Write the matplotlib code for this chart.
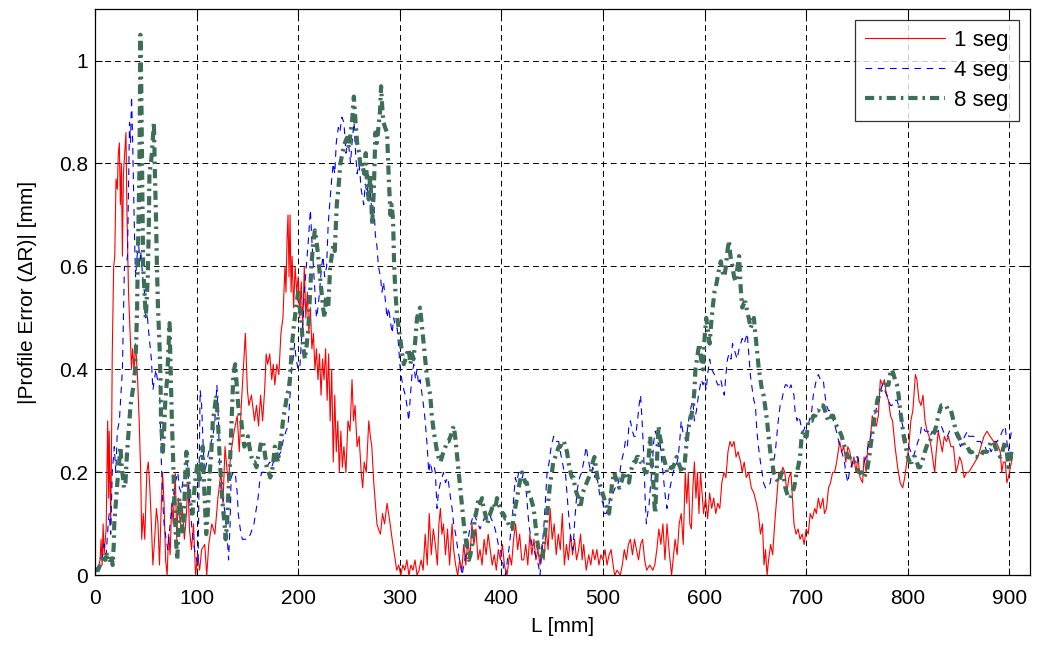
import matplotlib
matplotlib.use("Agg")
import matplotlib.pyplot as plt
from matplotlib.ticker import FuncFormatter

plt.rcParams['font.family'] = ['Liberation Sans', 'DejaVu Sans']

# (L [mm], |dR| [mm]), one list per series
seg1_pts = [
    (0, 0.01), (3, 0.01), (5, 0.03), (6, 0.07), (7, 0.02), (8, 0.1), (9, 0.04), (11, 0.09), (12.5, 0.3), (13.5, 0.15),
    (14, 0.28), (15.5, 0.1), (16.5, 0.3), (17, 0.43), (18.4, 0.6), (19.5, 0.62), (20.7, 0.77), (22, 0.75), (23, 0.82), (24, 0.84),
    (25, 0.72), (26, 0.8), (27, 0.62), (28, 0.78), (29.6, 0.83), (30.5, 0.86), (31.5, 0.7), (33, 0.55), (35, 0.45), (36, 0.4),
    (37, 0.44), (38.5, 0.4), (40, 0.45), (42, 0.38), (43.5, 0.3), (45, 0.2), (46, 0.07), (47.5, 0.12), (49, 0.07), (51, 0.2),
    (52.5, 0.22), (54, 0.17), (55.5, 0.1), (57, 0.02), (59, 0.08), (60.5, 0.13), (62, 0.1), (63.5, 0.02), (65, 0.12), (66.5, 0.2),
    (68, 0.14), (69.5, 0.03), (71, 0.0), (72.5, 0.08), (74, 0.04), (75.5, 0.14), (77, 0.1), (79, 0.2), (80.5, 0.07), (82, 0.15),
    (84, 0.1), (86, 0.13), (88, 0.07), (90, 0.12), (91.5, 0.18), (93, 0.09), (95, 0.05), (97, 0.1), (99, 0.0), (101, 0.04),
    (103, 0.01), (105, 0.05), (108, 0.06), (110, 0.0), (112, 0.06), (115, 0.1), (118, 0.08), (121, 0.15), (124, 0.2), (126, 0.14),
    (128, 0.25), (131, 0.18), (134, 0.24), (137, 0.28), (140, 0.31), (142, 0.24), (144, 0.33), (146, 0.4), (148, 0.47), (150, 0.36),
    (151.5, 0.33), (154, 0.35), (157, 0.3), (159, 0.33), (161, 0.29), (163, 0.35), (165, 0.3), (167, 0.36), (168.5, 0.43), (170, 0.41),
    (172, 0.43), (174, 0.38), (175.5, 0.41), (177, 0.37), (179, 0.41), (181, 0.39), (183, 0.47), (185, 0.5), (187, 0.6), (188, 0.55),
    (189, 0.65), (190, 0.7), (191, 0.58), (192, 0.7), (193, 0.55), (194, 0.62), (195.5, 0.52), (197, 0.6), (198.5, 0.55), (200, 0.58),
    (201.5, 0.5), (203, 0.57), (204.5, 0.48), (206, 0.6), (207.5, 0.5), (209, 0.55), (210.5, 0.47), (212, 0.52), (213.5, 0.44), (215, 0.47),
    (216.5, 0.4), (218, 0.44), (219.5, 0.38), (221, 0.43), (222.5, 0.35), (224, 0.42), (225.5, 0.38), (227, 0.44), (228.5, 0.34), (230, 0.43),
    (231.5, 0.3), (233, 0.4), (234.5, 0.22), (236, 0.35), (237.5, 0.24), (239, 0.3), (240.5, 0.2), (242, 0.28), (243.5, 0.21), (245, 0.25),
    (247, 0.2), (249, 0.3), (251, 0.28), (253, 0.38), (254.5, 0.3), (256, 0.33), (258, 0.25), (260, 0.27), (262, 0.2), (263.5, 0.17),
    (265, 0.22), (267, 0.2), (269.5, 0.3), (271, 0.27), (272.5, 0.25), (274.4, 0.18), (276, 0.14), (277.5, 0.1), (279, 0.09), (281, 0.08),
    (283, 0.12), (285, 0.1), (287.5, 0.14), (289, 0.12), (290.5, 0.1), (292.5, 0.07), (294, 0.05), (295.5, 0.03), (297, 0.01), (299, 0.02),
    (301, 0.0), (303, 0.02), (305, 0.01), (307, 0.03), (309, 0.0), (311, 0.02), (313, 0.01), (315, 0.03), (317, 0.0), (319, 0.01),
    (321, 0.03), (323, 0.01), (325, 0.08), (327, 0.02), (329, 0.12), (331, 0.04), (333, 0.09), (335, 0.06), (337, 0.02), (338.5, 0.1),
    (340, 0.13), (341.5, 0.08), (343, 0.1), (345, 0.04), (347, 0.09), (349, 0.02), (351.5, 0.1), (353, 0.05), (355, 0.02), (357, 0.0),
    (359, 0.03), (361, 0.01), (363, 0.06), (365, 0.02), (367, 0.07), (369, 0.03), (371, 0.1), (373, 0.06), (375, 0.09), (377, 0.03),
    (379, 0.05), (381, 0.02), (383, 0.07), (385, 0.04), (387, 0.08), (389, 0.05), (391, 0.02), (393, 0.04), (395, 0.01), (397, 0.05),
    (399, 0.03), (401, 0.06), (403, 0.02), (405.6, 0.0), (408, 0.04), (410, 0.02), (412, 0.07), (414, 0.1), (416, 0.05), (418, 0.08),
    (420, 0.03), (422, 0.03), (424, 0.06), (426, 0.02), (428, 0.08), (430, 0.04), (432, 0.07), (434, 0.03), (436, 0.05), (438, 0.02),
    (440, 0.06), (442, 0.03), (444, 0.09), (446, 0.05), (448, 0.13), (450, 0.07), (452, 0.1), (454, 0.04), (456, 0.08), (458, 0.05),
    (460, 0.12), (462, 0.02), (464, 0.06), (466, 0.03), (468, 0.08), (470, 0.04), (472, 0.07), (474, 0.03), (476, 0.05), (478, 0.08),
    (479.5, 0.03), (481, 0.06), (483.5, 0.01), (486, 0.04), (488, 0.02), (490, 0.05), (492, 0.03), (494, 0.05), (496, 0.02), (498, 0.04),
    (500, 0.03), (502, 0.05), (504, 0.02), (506, 0.04), (508, 0.05), (510, 0.02), (511.5, 0.0), (514, 0.01), (517, 0.0), (519, 0.02),
    (521, 0.05), (523, 0.03), (525, 0.06), (527, 0.07), (529, 0.04), (531, 0.07), (533, 0.05), (535, 0.03), (537, 0.06), (539, 0.07),
    (541, 0.03), (543, 0.01), (546, 0.02), (549, 0.01), (551, 0.02), (553, 0.05), (555, 0.09), (557, 0.06), (559, 0.1), (561, 0.03),
    (563, 0.1), (565, 0.05), (567.5, 0.0), (569, 0.03), (571, 0.07), (573, 0.04), (575, 0.1), (577, 0.12), (579, 0.06), (581, 0.2),
    (582.5, 0.14), (584, 0.2), (585.5, 0.1), (587, 0.09), (588.5, 0.17), (590, 0.22), (591.5, 0.15), (593, 0.2), (594.5, 0.12), (596, 0.2),
    (597.5, 0.16), (599, 0.12), (601, 0.15), (603, 0.11), (605, 0.16), (607, 0.13), (609, 0.15), (611, 0.12), (613, 0.14), (615, 0.13),
    (617, 0.18), (619, 0.2), (621, 0.19), (623, 0.24), (625, 0.26), (627, 0.25), (629, 0.26), (631, 0.23), (633, 0.24), (635.5, 0.22),
    (637, 0.2), (639, 0.22), (641, 0.19), (643.5, 0.2), (646, 0.17), (648.5, 0.16), (651, 0.14), (653, 0.12), (655, 0.08), (657, 0.1),
    (658.5, 0.02), (660, 0.05), (661.5, 0.0), (663, 0.03), (665, 0.06), (667, 0.04), (669, 0.1), (671, 0.15), (673, 0.2), (675, 0.19),
    (677, 0.21), (679, 0.2), (681, 0.16), (683, 0.19), (685, 0.2), (686.5, 0.15), (688, 0.1), (690, 0.08), (692, 0.09), (694, 0.07),
    (696, 0.08), (698, 0.06), (700, 0.09), (702, 0.08), (704, 0.12), (706, 0.11), (708.5, 0.13), (710, 0.12), (712, 0.15), (714, 0.13),
    (716.5, 0.15), (718, 0.12), (720, 0.13), (722, 0.17), (724, 0.18), (726, 0.2), (728, 0.2), (730, 0.22), (733, 0.26), (735, 0.24),
    (737, 0.25), (739, 0.22), (741, 0.25), (743, 0.24), (745, 0.21), (747, 0.23), (749, 0.2), (751, 0.23), (753, 0.19), (755.5, 0.18),
    (757, 0.23), (759, 0.2), (761, 0.26), (763, 0.26), (765, 0.31), (767, 0.3), (769, 0.29), (771, 0.31), (773, 0.38), (775, 0.37),
    (777, 0.38), (779, 0.35), (781, 0.34), (783, 0.31), (785, 0.3), (787.5, 0.25), (790, 0.21), (792.5, 0.18), (795, 0.17), (797, 0.19),
    (799, 0.22), (801, 0.25), (803, 0.3), (805, 0.32), (807.5, 0.39), (809, 0.38), (811, 0.34), (813, 0.33), (815, 0.35), (817, 0.3),
    (819, 0.28), (821, 0.27), (823, 0.25), (825, 0.22), (826.5, 0.2), (828, 0.24), (830, 0.28), (832, 0.26), (834, 0.24), (836, 0.27),
    (838, 0.26), (840, 0.27), (842.5, 0.25), (845, 0.25), (847.5, 0.2), (849, 0.21), (851, 0.23), (853, 0.22), (855.5, 0.19), (858, 0.2),
    (860, 0.2), (863, 0.21), (866, 0.22), (869, 0.23), (872, 0.25), (875, 0.27), (878, 0.28), (881, 0.27), (884.5, 0.26), (887, 0.26),
    (889, 0.25), (891, 0.24), (892.5, 0.2), (894, 0.22), (896, 0.22), (897.5, 0.18), (899, 0.19), (901, 0.21), (903, 0.23),
]

seg4_pts = [
    (0, 0.01), (4, 0.02), (7, 0.03), (9, 0.06), (11, 0.04), (13, 0.1), (14, 0.12), (15.5, 0.08), (17, 0.2), (19, 0.25),
    (20.5, 0.2), (22, 0.28), (24, 0.3), (25.5, 0.35), (27, 0.4), (28, 0.5), (29, 0.6), (30.5, 0.6), (32, 0.62), (33, 0.75),
    (34, 0.88), (35, 0.84), (36, 0.93), (37, 0.85), (38, 0.75), (39, 0.65), (40, 0.58), (41.5, 0.62), (43, 0.65), (44, 0.6),
    (45, 0.63), (47, 0.58), (48.7, 0.55), (50, 0.5), (51, 0.52), (52.5, 0.48), (54, 0.45), (55.5, 0.42), (57, 0.36), (58.5, 0.38),
    (60, 0.4), (61.5, 0.38), (63.5, 0.37), (65, 0.24), (66.5, 0.15), (68, 0.1), (70, 0.07), (71.7, 0.05), (73, 0.08), (75, 0.12),
    (77, 0.15), (79, 0.18), (81.5, 0.2), (83, 0.17), (85, 0.16), (87, 0.19), (89, 0.2), (91, 0.22), (93, 0.15), (95, 0.1),
    (96, 0.08), (98, 0.05), (100, 0.03), (101.5, 0.02), (102.5, 0.2), (103.5, 0.36), (105, 0.33), (106.5, 0.25), (108, 0.2), (110, 0.22),
    (113, 0.25), (116, 0.27), (118, 0.3), (120, 0.37), (121.5, 0.3), (123, 0.2), (124, 0.17), (126, 0.15), (128, 0.12), (130, 0.08),
    (131.5, 0.03), (133, 0.1), (134, 0.19), (136, 0.2), (138, 0.2), (140, 0.16), (141, 0.12), (143, 0.09), (145, 0.07), (148, 0.07),
    (150.5, 0.07), (153, 0.08), (156.5, 0.1), (158, 0.12), (160.5, 0.15), (162, 0.18), (164, 0.2), (166, 0.2), (169, 0.21), (172, 0.22),
    (174, 0.21), (177, 0.23), (180, 0.23), (183, 0.24), (185, 0.26), (188, 0.28), (190, 0.29), (192, 0.35), (193.5, 0.4), (195, 0.42),
    (196.5, 0.45), (198, 0.42), (200, 0.4), (201.5, 0.4), (203, 0.45), (205, 0.5), (206, 0.55), (208, 0.6), (210, 0.65), (212, 0.71),
    (213.5, 0.65), (215, 0.6), (216.5, 0.55), (218, 0.5), (219.5, 0.52), (221, 0.55), (223, 0.6), (224.5, 0.62), (226, 0.58), (228, 0.6),
    (229.5, 0.68), (231, 0.72), (233, 0.77), (234.5, 0.8), (236, 0.78), (237.5, 0.84), (239.5, 0.87), (241, 0.86), (243, 0.89), (245, 0.88),
    (247, 0.82), (249, 0.85), (251.5, 0.8), (253, 0.84), (255, 0.88), (256.5, 0.82), (258, 0.78), (260, 0.8), (262, 0.75), (264.5, 0.72),
    (266, 0.76), (268, 0.74), (269.5, 0.78), (271, 0.74), (273, 0.7), (274.5, 0.72), (276, 0.66), (277.5, 0.64), (279, 0.6), (281, 0.58),
    (282.5, 0.55), (284, 0.57), (286, 0.53), (287.5, 0.5), (289, 0.52), (291, 0.49), (292.5, 0.47), (294, 0.5), (296, 0.48), (297.5, 0.48),
    (299, 0.44), (300.5, 0.4), (302, 0.38), (304, 0.36), (305.5, 0.35), (307, 0.33), (308.8, 0.3), (310.5, 0.35), (312, 0.39), (313.8, 0.41),
    (315.5, 0.38), (317, 0.4), (318.5, 0.37), (320, 0.38), (322, 0.35), (324, 0.32), (325, 0.3), (327, 0.25), (328.5, 0.2), (330, 0.22),
    (332, 0.2), (334, 0.21), (335, 0.2), (336.7, 0.13), (338, 0.16), (340, 0.18), (341.6, 0.19), (343, 0.2), (345, 0.18), (347, 0.19),
    (348, 0.18), (350, 0.15), (351.5, 0.13), (353, 0.1), (355, 0.08), (356.4, 0.06), (358, 0.04), (359.5, 0.02), (361.3, 0.0), (363, 0.02),
    (365, 0.04), (366, 0.05), (368, 0.08), (370, 0.1), (372.8, 0.12), (375, 0.11), (377, 0.1), (379, 0.09), (381, 0.1), (383, 0.11),
    (386, 0.12), (388, 0.12), (390, 0.11), (392.5, 0.1), (395, 0.08), (397, 0.06), (399, 0.05), (401, 0.03), (402.5, 0.01), (404, 0.0),
    (406, 0.03), (408, 0.06), (409, 0.08), (411, 0.12), (412.5, 0.16), (413.8, 0.19), (415, 0.18), (417, 0.2), (418.7, 0.2), (420.5, 0.19),
    (422, 0.2), (423.6, 0.18), (425, 0.15), (427, 0.1), (428.5, 0.08), (430, 0.06), (432, 0.05), (433.4, 0.04), (435, 0.03), (436.5, 0.02),
    (438, 0.0), (440, 0.05), (442, 0.1), (443.5, 0.15), (445, 0.2), (447, 0.22), (449, 0.25), (451.5, 0.27), (453, 0.26), (455, 0.26),
    (456.4, 0.26), (458, 0.24), (460, 0.22), (462, 0.2), (463, 0.2), (465.7, 0.13), (467, 0.1), (469, 0.06), (470.5, 0.05), (472, 0.1),
    (473.5, 0.14), (475, 0.17), (477, 0.19), (479, 0.2), (481, 0.22), (483.5, 0.25), (485, 0.23), (487, 0.21), (488.5, 0.2), (490, 0.21),
    (492, 0.19), (493.5, 0.2), (495, 0.18), (496.5, 0.16), (498, 0.15), (500, 0.14), (501.5, 0.12), (503, 0.12), (505, 0.13), (507, 0.15),
    (508, 0.15), (510, 0.16), (512, 0.17), (514, 0.17), (516, 0.19), (518, 0.22), (520.5, 0.24), (522, 0.26), (524, 0.25), (525.5, 0.29),
    (527, 0.3), (529, 0.28), (530.5, 0.27), (532, 0.27), (534, 0.3), (535.5, 0.33), (537, 0.35), (538.5, 0.3), (540, 0.24), (541.5, 0.15),
    (542.7, 0.1), (544, 0.12), (545.5, 0.14), (546.6, 0.17), (548, 0.2), (550, 0.26), (551.5, 0.28), (553, 0.27), (555, 0.25), (556, 0.26),
    (558, 0.22), (560, 0.18), (561.5, 0.15), (563, 0.13), (565, 0.16), (567, 0.18), (569, 0.2), (571, 0.21), (573, 0.22), (574, 0.23),
    (575.5, 0.26), (577, 0.3), (578.5, 0.28), (580, 0.27), (582, 0.26), (583.5, 0.29), (585, 0.31), (587, 0.33), (588.5, 0.34), (590, 0.3),
    (592, 0.32), (594, 0.35), (596.8, 0.38), (598.5, 0.37), (600, 0.38), (601.6, 0.36), (603, 0.39), (605, 0.42), (607, 0.4), (609.7, 0.39),
    (611, 0.38), (613, 0.37), (614.6, 0.37), (616, 0.38), (618, 0.36), (619.4, 0.35), (621, 0.39), (622.6, 0.42), (624, 0.43), (626, 0.42),
    (627.5, 0.45), (629, 0.44), (630.5, 0.43), (632, 0.42), (634, 0.44), (635.5, 0.45), (637, 0.46), (639, 0.45), (640.5, 0.46), (642, 0.47),
    (643.5, 0.43), (645, 0.39), (647, 0.36), (648.5, 0.34), (650, 0.33), (651.5, 0.28), (653, 0.25), (655, 0.22), (656.6, 0.2), (658, 0.18),
    (660, 0.17), (662, 0.17), (664.7, 0.18), (666, 0.2), (668, 0.22), (669.6, 0.24), (671, 0.27), (672.5, 0.3), (674.4, 0.33), (676, 0.34),
    (678, 0.36), (679.5, 0.37), (681, 0.37), (683, 0.36), (685, 0.37), (686.5, 0.36), (688, 0.35), (689, 0.32), (691, 0.3), (692.5, 0.31),
    (694, 0.3), (696, 0.28), (697.4, 0.28), (699, 0.29), (700.5, 0.29), (702, 0.29), (704, 0.31), (705.5, 0.32), (707, 0.35), (709, 0.37),
    (710, 0.38), (712, 0.39), (714, 0.38), (716.8, 0.38), (718.5, 0.35), (720, 0.33), (722, 0.32), (723.5, 0.32), (725, 0.32), (727, 0.3),
    (729.7, 0.28), (731, 0.27), (733, 0.25), (735, 0.24), (737.7, 0.22), (739, 0.2), (741, 0.18), (742.5, 0.2), (744, 0.21), (745.8, 0.22),
    (748, 0.23), (750.6, 0.23), (752, 0.22), (754, 0.22), (757, 0.22), (759, 0.23), (761, 0.25), (763.5, 0.27), (765, 0.29), (767, 0.31),
    (770, 0.33), (772, 0.34), (773.5, 0.36), (775, 0.37), (777, 0.36), (779.7, 0.35), (781, 0.34), (783, 0.33), (784.5, 0.33), (786, 0.34),
    (788, 0.34), (789.4, 0.34), (791, 0.33), (792.5, 0.31), (794, 0.3), (796, 0.28), (797.5, 0.27), (799, 0.26), (801, 0.25), (803, 0.24),
    (805.5, 0.23), (807, 0.24), (808.5, 0.25), (810, 0.26), (812, 0.27), (813.5, 0.29), (815, 0.29), (817, 0.28), (818.5, 0.28), (820, 0.28),
    (822, 0.27), (824, 0.28), (826.5, 0.27), (828, 0.28), (830, 0.28), (832, 0.29), (833, 0.29), (835, 0.28), (837, 0.27), (839, 0.27),
    (841, 0.28), (843, 0.28), (845.8, 0.28), (848, 0.27), (850, 0.26), (852, 0.25), (854, 0.26), (856, 0.27), (858.7, 0.28), (860, 0.27),
    (862, 0.27), (865, 0.27), (867, 0.26), (869, 0.26), (871.6, 0.26), (874, 0.25), (876, 0.25), (878, 0.24), (880, 0.25), (882, 0.24),
    (884.5, 0.25), (886, 0.26), (888, 0.26), (891, 0.27), (893, 0.28), (895.8, 0.29), (897.5, 0.26), (899, 0.24), (900.5, 0.26), (902, 0.28),
]

seg8_pts = [
    (0, 0.01), (3, 0.01), (5, 0.02), (6, 0.03), (8, 0.04), (10, 0.03), (12, 0.04), (14, 0.03), (16, 0.04), (17.4, 0.02),
    (18.5, 0.06), (19, 0.1), (20.5, 0.14), (22, 0.18), (23.5, 0.21), (25, 0.25), (26, 0.22), (27, 0.2), (28.5, 0.17), (30, 0.18),
    (31, 0.22), (32, 0.25), (33.5, 0.29), (35, 0.33), (36.5, 0.35), (38, 0.37), (39.5, 0.4), (40.5, 0.45), (41.5, 0.52), (42, 0.6),
    (43, 0.7), (43.7, 0.78), (44.2, 0.92), (44.7, 1.05), (45.5, 0.96), (46, 0.87), (46.8, 0.72), (47.4, 0.6), (48.7, 0.55), (50, 0.5),
    (51, 0.54), (52, 0.58), (53, 0.68), (53.6, 0.78), (55, 0.8), (56, 0.82), (57, 0.85), (58, 0.88), (59, 0.78), (60, 0.7),
    (61, 0.6), (62, 0.52), (63.5, 0.45), (64.5, 0.38), (65, 0.3), (66.8, 0.24), (68, 0.28), (69, 0.33), (70, 0.36), (71, 0.38),
    (72.5, 0.45), (73.4, 0.49), (74.5, 0.4), (75.7, 0.3), (77, 0.22), (78, 0.15), (79, 0.1), (80, 0.06), (81, 0.03), (82, 0.08),
    (83, 0.15), (84.5, 0.12), (86.5, 0.08), (88, 0.14), (89, 0.2), (90, 0.24), (91.5, 0.2), (93, 0.15), (94.5, 0.13), (96, 0.12),
    (98, 0.17), (99.7, 0.2), (101, 0.22), (103, 0.18), (104.5, 0.21), (106, 0.25), (107.5, 0.17), (109.5, 0.08), (111, 0.12), (113, 0.2),
    (114.5, 0.24), (116, 0.3), (117.5, 0.32), (119.4, 0.35), (121, 0.3), (122.7, 0.23), (124.5, 0.17), (126, 0.13), (127.5, 0.1), (128.6, 0.07),
    (130, 0.1), (131, 0.15), (132.5, 0.2), (133.5, 0.25), (135, 0.32), (136, 0.38), (137, 0.4), (138, 0.41), (139.5, 0.37), (141, 0.33),
    (142.5, 0.31), (144, 0.3), (145.5, 0.27), (147, 0.25), (149, 0.26), (150.6, 0.27), (152, 0.25), (154, 0.23), (155.5, 0.22), (157, 0.22),
    (159, 0.21), (160.5, 0.23), (162, 0.24), (163.5, 0.26), (165.5, 0.26), (167, 0.24), (169, 0.21), (171, 0.2), (172.5, 0.19), (174, 0.2),
    (175.5, 0.22), (177, 0.25), (178.5, 0.24), (180, 0.22), (182, 0.25), (183.5, 0.27), (185, 0.3), (187.5, 0.33), (189, 0.35), (190.5, 0.36),
    (191.8, 0.38), (193, 0.42), (194, 0.45), (195.5, 0.48), (196.7, 0.5), (198.5, 0.53), (200, 0.55), (201.5, 0.52), (203, 0.5), (204.5, 0.45),
    (206.6, 0.42), (208, 0.44), (210, 0.48), (211.5, 0.54), (213, 0.6), (214.5, 0.64), (216.4, 0.67), (218, 0.65), (219.7, 0.62), (221.5, 0.58),
    (223, 0.55), (224.5, 0.52), (226, 0.5), (227.5, 0.54), (229.6, 0.52), (231.5, 0.6), (233, 0.62), (234.5, 0.64), (236, 0.63), (238, 0.72),
    (239.5, 0.75), (241.6, 0.8), (243.5, 0.82), (246, 0.84), (248, 0.85), (250, 0.83), (251.5, 0.86), (253, 0.88), (254.8, 0.93), (256.5, 0.88),
    (258, 0.84), (260, 0.82), (261.5, 0.79), (263, 0.8), (265, 0.78), (266.5, 0.82), (268, 0.75), (269.5, 0.73), (271, 0.78), (272.8, 0.68),
    (274.5, 0.75), (276, 0.86), (277.5, 0.84), (279, 0.87), (280.5, 0.9), (281.6, 0.95), (283, 0.9), (284, 0.88), (285.5, 0.87), (287.5, 0.86),
    (289, 0.78), (290.8, 0.7), (292, 0.72), (293.4, 0.69), (294.5, 0.6), (295.7, 0.55), (297.5, 0.5), (299, 0.48), (300.5, 0.46), (302.3, 0.43),
    (304, 0.41), (305.6, 0.42), (307, 0.43), (308.8, 0.44), (310.5, 0.41), (312, 0.43), (313.5, 0.42), (315, 0.45), (317, 0.5), (318.5, 0.51),
    (320, 0.52), (321.5, 0.49), (323, 0.46), (325, 0.42), (326.5, 0.39), (328, 0.37), (330, 0.35), (331.5, 0.31), (333.4, 0.28), (335, 0.26),
    (336.7, 0.24), (338, 0.23), (340, 0.22), (341.5, 0.23), (343, 0.24), (345, 0.25), (346.5, 0.26), (348, 0.26), (350, 0.27), (351.5, 0.28),
    (353, 0.29), (354.5, 0.27), (356, 0.24), (358, 0.2), (359.5, 0.17), (361, 0.14), (363, 0.1), (364.5, 0.08), (366, 0.05), (368, 0.03),
    (369.5, 0.04), (371, 0.06), (372.5, 0.09), (374, 0.11), (376, 0.13), (377.5, 0.15), (379, 0.14), (381, 0.15), (382.5, 0.13), (384, 0.12),
    (386, 0.1), (387.5, 0.11), (389, 0.12), (390.8, 0.13), (392.5, 0.14), (394, 0.13), (395.7, 0.15), (397, 0.14), (399, 0.13), (400.7, 0.12),
    (402, 0.12), (404, 0.11), (405.6, 0.11), (407, 0.1), (409, 0.09), (410.5, 0.09), (412, 0.11), (413.5, 0.13), (415.4, 0.15), (417, 0.17),
    (419, 0.19), (420.3, 0.2), (422, 0.19), (423.5, 0.18), (425, 0.18), (427, 0.16), (429, 0.15), (431.8, 0.13), (433.5, 0.1), (435, 0.07),
    (436.7, 0.05), (438, 0.04), (440, 0.03), (441.5, 0.05), (443, 0.08), (445, 0.12), (446.5, 0.15), (448, 0.18), (449.8, 0.2), (451, 0.22),
    (453, 0.23), (454.8, 0.24), (456.5, 0.25), (458, 0.25), (459.7, 0.26), (461.5, 0.26), (463, 0.25), (464.6, 0.24), (466, 0.22), (468, 0.2),
    (469.5, 0.19), (471, 0.19), (472.5, 0.17), (474, 0.16), (476, 0.15), (477, 0.13), (478.5, 0.14), (480, 0.16), (482, 0.17), (484, 0.18),
    (486, 0.19), (488, 0.2), (490, 0.22), (491.6, 0.23), (493, 0.21), (494.5, 0.19), (496.4, 0.18), (498, 0.17), (499.5, 0.16), (501, 0.15),
    (502.5, 0.14), (504, 0.13), (506, 0.12), (507.5, 0.15), (509, 0.18), (511, 0.2), (512.5, 0.19), (514, 0.18), (516, 0.17), (518, 0.18),
    (520.7, 0.2), (522, 0.2), (524, 0.19), (525.6, 0.18), (527, 0.2), (528.5, 0.21), (530.4, 0.22), (532, 0.22), (533.5, 0.23), (535, 0.23),
    (537, 0.22), (538.5, 0.22), (540, 0.21), (541.5, 0.2), (543, 0.2), (545, 0.23), (546.5, 0.27), (548, 0.22), (549.5, 0.18), (550.5, 0.14),
    (551.5, 0.12), (552.5, 0.18), (553.5, 0.24), (554.7, 0.29), (556, 0.27), (558, 0.25), (559.5, 0.23), (561, 0.22), (563, 0.2), (565, 0.2),
    (567, 0.21), (569, 0.21), (571, 0.22), (572.5, 0.23), (574, 0.22), (576, 0.21), (577.5, 0.2), (579, 0.2), (580.5, 0.22), (582, 0.25),
    (583.5, 0.28), (585.4, 0.3), (587, 0.31), (588.7, 0.33), (590, 0.36), (591, 0.4), (592.5, 0.42), (594, 0.44), (595, 0.45), (596.5, 0.42),
    (598.4, 0.4), (600, 0.46), (601.6, 0.5), (603, 0.48), (605, 0.45), (606.5, 0.49), (608, 0.52), (609.7, 0.55), (611, 0.56), (613, 0.58),
    (614.6, 0.6), (616, 0.61), (617.5, 0.59), (619.4, 0.58), (621, 0.6), (622.5, 0.63), (624, 0.65), (625.5, 0.62), (627.5, 0.6), (629, 0.58),
    (630.7, 0.57), (632.5, 0.6), (634, 0.62), (635.5, 0.56), (637, 0.52), (639, 0.53), (640.5, 0.53), (642, 0.51), (643.5, 0.5), (645.3, 0.48),
    (647, 0.49), (648.5, 0.5), (650, 0.47), (651.5, 0.44), (653.4, 0.4), (655, 0.38), (656.5, 0.36), (658, 0.35), (659.5, 0.33), (661.5, 0.3),
    (663, 0.27), (664.7, 0.24), (666.5, 0.22), (668, 0.2), (670, 0.19), (672.8, 0.18), (674.5, 0.19), (676, 0.2), (678, 0.19), (679.5, 0.17),
    (681, 0.16), (683, 0.15), (684.5, 0.15), (686, 0.16), (688, 0.17), (689, 0.18), (690.6, 0.2), (692, 0.21), (694, 0.23), (695.5, 0.27),
    (697.4, 0.28), (699, 0.27), (700.5, 0.27), (702, 0.3), (704, 0.3), (705.5, 0.3), (707, 0.31), (709, 0.31), (710, 0.32), (712, 0.32),
    (714, 0.33), (716.8, 0.33), (718.5, 0.32), (720, 0.31), (721.6, 0.3), (723, 0.3), (725, 0.31), (726.5, 0.31), (728, 0.3), (730, 0.29),
    (733, 0.28), (735, 0.27), (737.7, 0.25), (739.5, 0.24), (741, 0.23), (742.6, 0.23), (745, 0.22), (747.4, 0.22), (749.5, 0.21), (752, 0.2),
    (754.5, 0.2), (757, 0.19), (759, 0.2), (760.5, 0.21), (762, 0.23), (764, 0.26), (766.8, 0.3), (768.5, 0.32), (770, 0.34), (771.6, 0.35),
    (773.5, 0.36), (776.5, 0.37), (779, 0.37), (781, 0.37), (782.5, 0.39), (784.5, 0.4), (786, 0.39), (787.5, 0.38), (789.4, 0.37), (791, 0.35),
    (792.5, 0.32), (794, 0.3), (796, 0.27), (798, 0.25), (800, 0.23), (802, 0.22), (804, 0.22), (805.5, 0.23), (807, 0.23), (809, 0.22),
    (810.5, 0.21), (812, 0.21), (814, 0.22), (816.8, 0.24), (818.5, 0.25), (820, 0.26), (821.6, 0.26), (823.5, 0.27), (826.5, 0.28), (828, 0.29),
    (830, 0.31), (831.5, 0.32), (833, 0.33), (835, 0.33), (837.7, 0.33), (840, 0.32), (842.6, 0.32), (845, 0.3), (847.4, 0.28), (850, 0.27),
    (852, 0.26), (854, 0.26), (856, 0.25), (858.7, 0.25), (861, 0.24), (863, 0.24), (865, 0.23), (868, 0.23), (871.6, 0.23), (874, 0.24),
    (876, 0.24), (878, 0.24), (880, 0.25), (882, 0.26), (884.5, 0.26), (886, 0.25), (888, 0.24), (891, 0.23), (893, 0.24), (895.8, 0.26),
    (897.5, 0.24), (899, 0.21), (900.5, 0.22), (902, 0.24),
]

labels = ['1 seg', '4 seg', '8 seg']
x_ticks = [0, 100, 200, 300, 400, 500, 600, 700, 800, 900]
y_ticks = [0, 0.2, 0.4, 0.6, 0.8, 1.0]

fig = plt.figure(figsize=(10.38, 6.45), dpi=100)
ax = fig.add_axes([0.0915, 0.108, 0.9005, 0.878])

x1, y1 = zip(*seg1_pts)
x4, y4 = zip(*seg4_pts)
x8, y8 = zip(*seg8_pts)

ax.plot(x1, y1, color='red', lw=0.8, ls='-', label=labels[0])
ax.plot(x4, y4, color='blue', lw=0.8, ls=(0, (6, 5)), label=labels[1])
ax.plot(x8, y8, color='#3d6e57', lw=3.0, ls=(0, (2.2, 1.2, 0.6, 1.2)), label=labels[2])

ax.set_xlim(0, 920)
ax.set_ylim(0, 1.1)
ax.set_xticks(x_ticks)
ax.set_yticks(y_ticks)
ax.yaxis.set_major_formatter(FuncFormatter(lambda v, p: '%g' % v))
ax.tick_params(direction='in', top=True, right=True, labelsize=15, length=5)
ax.tick_params(axis='x', pad=10)
ax.tick_params(axis='y', pad=5)

ax.grid(True, color='black', ls=(0, (6, 4)), lw=0.7)
for s in ax.spines.values():
    s.set_linewidth(0.9)

ax.set_xlabel('L [mm]', fontsize=15, labelpad=6)
ax.set_ylabel('|Profile Error (\u0394R)| [mm]', fontsize=15, labelpad=16)

leg = ax.legend(loc='upper right', fontsize=16, handlelength=3.6, handletextpad=0.4, frameon=True, fancybox=False,
                edgecolor='black', borderaxespad=0.5, labelspacing=0.4, borderpad=0.45)
leg.get_frame().set_linewidth(0.9)

fig.savefig('out.png', dpi=100)
